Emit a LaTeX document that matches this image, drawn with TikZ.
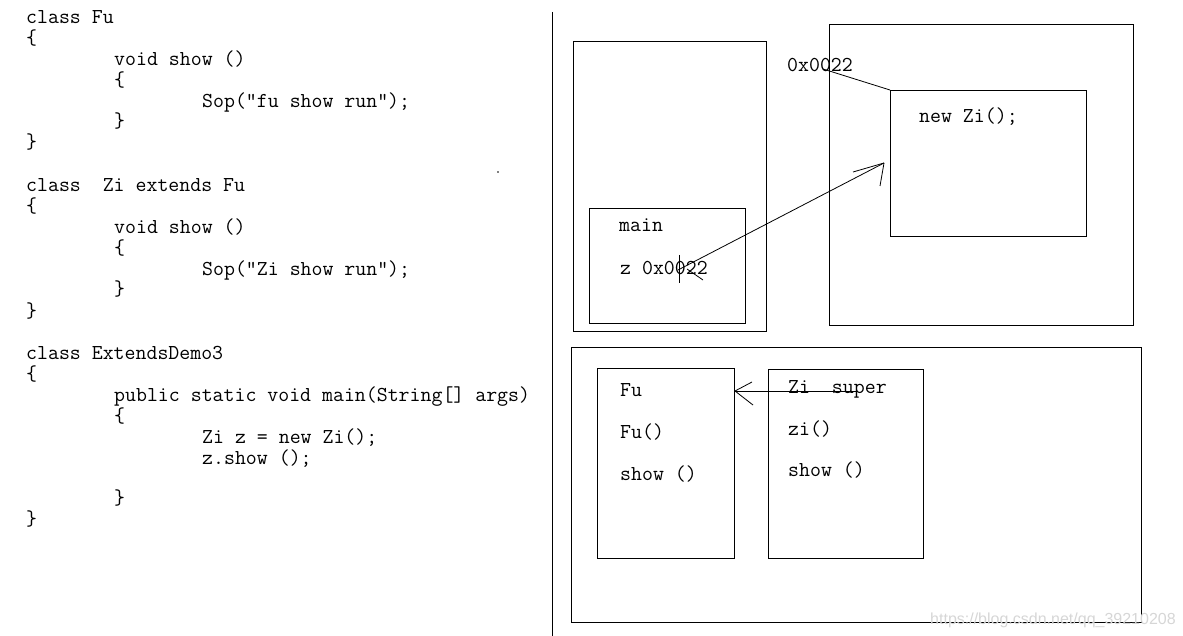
\documentclass[tikz,border=0pt]{standalone}
\usepackage{fontspec}
\newfontfamily\markfont{Liberation Sans}
\begin{document}
\begin{tikzpicture}[x=1pt,y=-1pt,
  code/.style={anchor=base west, inner sep=0pt, font=\ttfamily\fontsize{21.25}{21.25}\selectfont},
  box/.style={draw, line width=1pt, anchor=north west, inner sep=0pt},
  link/.style={line width=0.8pt}]
\useasboundingbox (0,0) rectangle (1183,636);

% ---- source listing ----
\node[code] (c1)  at (26,24)   {class Fu};
\node[code] (c2)  at (26,45)   {\{};
\node[code] (c3)  at (114,66)  {void show ()};
\node[code] (c4)  at (114,87)  {\{};
\node[code] (c5)  at (202,108) {Sop(”fu show run”);};
\node[code] (c6)  at (114,128) {\}};
\node[code] (c7)  at (26,149)  {\}};

\node[code] (d1)  at (26,192)  {class\ \ Zi extends Fu};
\node[code] (d2)  at (26,213)  {\{};
\node[code] (d3)  at (114,234) {void show ()};
\node[code] (d4)  at (114,255) {\{};
\node[code] (d5)  at (202,276) {Sop(”Zi show run”);};
\node[code] (d6)  at (114,296) {\}};
\node[code] (d7)  at (26,317)  {\}};

\node[code] (e1)  at (26,359)  {class ExtendsDemo3};
\node[code] (e2)  at (26,380)  {\{};
\node[code] (e3)  at (114,401) {public static void main(String[] args)};
\node[code] (e4)  at (114,422) {\{};
\node[code] (e5)  at (202,443) {Zi z = new Zi();};
\node[code] (e6)  at (202,464) {z.show ();};
\node[code] (e7)  at (114,504) {\}};
\node[code] (e8)  at (26,525)  {\}};

\fill (498,172) circle (0.8);

% ---- divider ----
\coordinate (divtop) at (552,12);
\coordinate (divbot) at (552,636);
\draw[line width=1pt] (divtop) -- (divbot);

% ---- stack ----
\node[box, minimum width=193pt, minimum height=290pt] (stack) at (573,41) {};
\node[box, minimum width=156pt, minimum height=115pt] (frame) at (589,208) {};
\node[code] (mainlbl) at (619,232) {main};
\node[code] (zval) at (620,275) {z 0x0022};

% ---- heap ----
\node[box, minimum width=304pt, minimum height=301pt] (heap) at (829,24) {};
\node[box, minimum width=196pt, minimum height=146pt] (obj) at (890,90) {};
\node[code] (addr) at (787,72) {0x0022};
\node[code] (newzi) at (919,123) {new Zi();};

% address label tied to the object
\coordinate (addrend) at (823,69);
\draw[link] (addrend) -- (obj.north west);

% reference from z to the object
\coordinate (zref) at (678,270);
\coordinate (objtip) at (884,163);
\draw[link] (zref) -- (objtip);
\draw[link] (objtip) -- ++(-31,9);
\draw[link] (objtip) -- ++(-4,23);
\coordinate (ztail) at (687,269);
\draw[link] (ztail) -- ++(16,11);
\coordinate (curtop) at (679,255);
\draw[line width=1pt] (curtop) -- ++(0,28);

% ---- method area ----
\node[box, minimum width=570pt, minimum height=275pt] (methods) at (571,347) {};
\node[box, minimum width=137pt, minimum height=190pt] (fubox) at (597,368) {};
\node[box, minimum width=155pt, minimum height=189pt] (zibox) at (768,369) {};

\node[code] (fu1) at (620,396) {Fu};
\node[code] (fu2) at (620,438) {Fu()};
\node[code] (fu3) at (620,480) {show ()};

\node[code] (zi1) at (788,393) {Zi\ \ super};
\node[code] (zi2) at (788,435) {zi()};
\node[code] (zi3) at (788,476) {show ()};

% super link from Zi to Fu
\coordinate (superstart) at (856,391);
\coordinate (supertip) at (735,391);
\draw[link] (superstart) -- (supertip);
\draw[link] (supertip) -- ++(17,-9);
\draw[link] (supertip) -- ++(18,14);

% ---- watermark ----
\node[anchor=base west, inner sep=0pt, text=black!16, font=\markfont\fontsize{16}{16}\selectfont] (wm) at (930,624) {https://blog.csdn.net/qq\_39210208};
\end{tikzpicture}
\end{document}
